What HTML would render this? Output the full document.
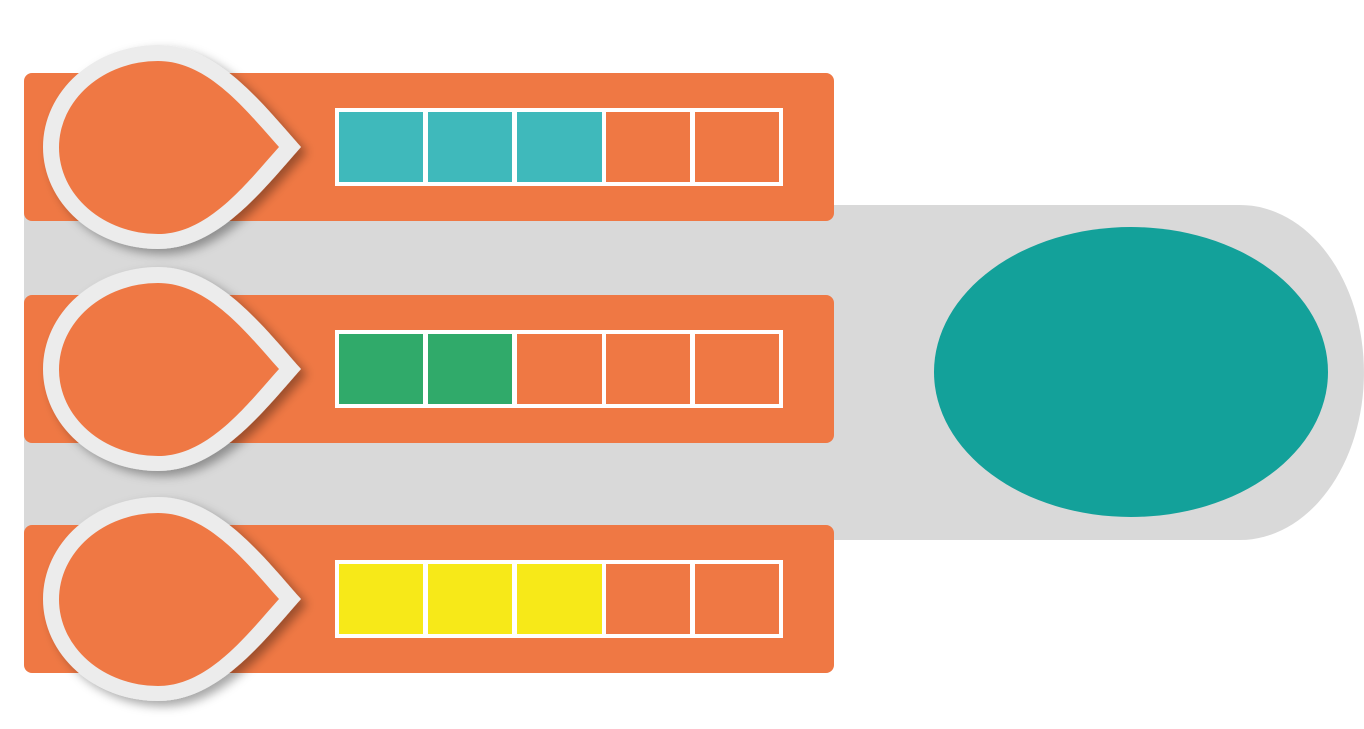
<!DOCTYPE html>
<html><head><style>body{margin:0;background:#fff}svg{display:block}</style></head>
<body>
<svg width="1364" height="729" viewBox="0 0 1364 729" xmlns="http://www.w3.org/2000/svg">
<defs>
<filter id="sh" x="-20%" y="-20%" width="150%" height="150%"><feDropShadow dx="6" dy="5" stdDeviation="5" flood-color="#000" flood-opacity="0.35"/></filter>
<g id="drop">
<path d="M301,147 C262,103 218,45 158,45 A115,102 0 0 0 158,249 C218,249 262,191 301,147 Z" fill="#ececec" filter="url(#sh)"/>
<path d="M279,147 C246,110 208,61 158,61 A99,86.5 0 0 0 158,234 C208,234 246,184 279,147 Z" fill="#ef7844"/>
</g>
</defs>
<path d="M24,205 H1240 A124,167.5 0 0 1 1240,540 H24 Z" fill="#d9d9d9"/>
<ellipse cx="1131" cy="372" rx="197" ry="145" fill="#13a19a"/>
<g fill="#ef7844">
<rect x="24" y="73" width="810" height="148" rx="8"/>
<rect x="24" y="295" width="810" height="148" rx="8"/>
<rect x="24" y="525" width="810" height="148" rx="8"/>
</g>
<g transform="translate(0,0)">
<rect x="335" y="108" width="448" height="78" fill="#fff"/>
<rect x="339" y="112" width="84" height="70" fill="#3fb9bb"/>
<rect x="428" y="112" width="84" height="70" fill="#3fb9bb"/>
<rect x="517" y="112" width="85" height="70" fill="#3fb9bb"/>
<rect x="606" y="112" width="84" height="70" fill="#ef7844"/>
<rect x="695" y="112" width="84" height="70" fill="#ef7844"/>
<use href="#drop"/>
</g>
<g transform="translate(0,222)">
<rect x="335" y="108" width="448" height="78" fill="#fff"/>
<rect x="339" y="112" width="84" height="70" fill="#30aa6a"/>
<rect x="428" y="112" width="84" height="70" fill="#30aa6a"/>
<rect x="517" y="112" width="85" height="70" fill="#ef7844"/>
<rect x="606" y="112" width="84" height="70" fill="#ef7844"/>
<rect x="695" y="112" width="84" height="70" fill="#ef7844"/>
<use href="#drop"/>
</g>
<g transform="translate(0,452)">
<rect x="335" y="108" width="448" height="78" fill="#fff"/>
<rect x="339" y="112" width="84" height="70" fill="#f7e918"/>
<rect x="428" y="112" width="84" height="70" fill="#f7e918"/>
<rect x="517" y="112" width="85" height="70" fill="#f7e918"/>
<rect x="606" y="112" width="84" height="70" fill="#ef7844"/>
<rect x="695" y="112" width="84" height="70" fill="#ef7844"/>
<use href="#drop"/>
</g>
</svg>
</body></html>
